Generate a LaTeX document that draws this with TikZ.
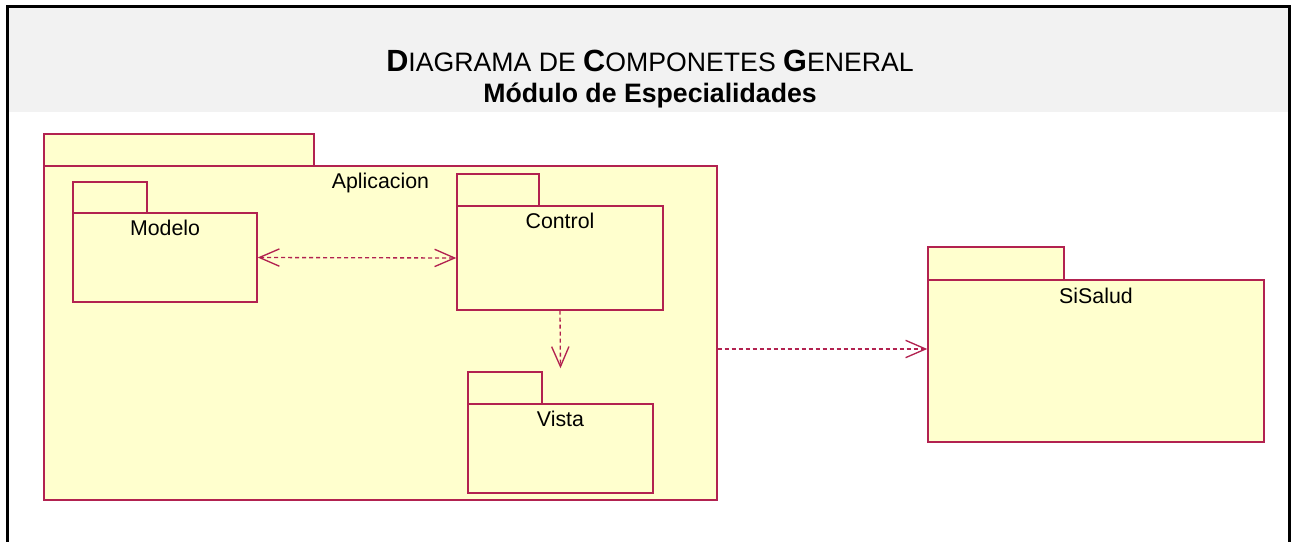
\documentclass[tikz,border=0pt]{standalone}
\usepackage{fontspec}
\setmainfont{Liberation Sans}
\usepackage{tikz}
\usetikzlibrary{arrows.meta,positioning,fit}

\definecolor{pkgline}{RGB}{178,34,80}
\definecolor{pkgfill}{RGB}{255,255,206}
\definecolor{banda}{RGB}{242,242,242}

\begin{document}
\begin{tikzpicture}[x=0.75pt,y=-0.75pt,
	>={Straight Barb[length=15pt,width=13pt]},
	pkg/.style={draw=pkgline,fill=pkgfill,line width=1.1pt,inner sep=0pt},
	pkglabel/.style={inner sep=0pt,font=\fontsize{16}{19}\selectfont},
	dep/.style={draw=pkgline,line width=1pt,dash pattern=on 3pt off 2.25pt}]
	\useasboundingbox (0,0) rectangle (1296,542);

	% marco y cabecera
	\fill[banda] (9,8) rectangle (1288,112);
	\draw[line width=2.25pt] (7.5,542) -- (7.5,6.5) -- (1289.5,6.5) -- (1289.5,542);
	\node[anchor=base,inner sep=0pt,font=\fontsize{20}{24}\selectfont] (titulo) at (650,72)
		{{\bfseries\fontsize{23}{27}\selectfont D}IAGRAMA DE {\bfseries\fontsize{23}{27}\selectfont C}OMPONETES {\bfseries\fontsize{23}{27}\selectfont G}ENERAL};
	\node[anchor=base,inner sep=0pt,font=\bfseries\fontsize{20}{24}\selectfont] (subtitulo) at (650,103)
		{Módulo de Especialidades};

	% paquetes
	\node[pkg,fit={(44,134) (314,166)}] (aplictab) {};
	\node[pkg,fit={(44,166) (717,500)}] (aplic) {};
	\node[pkglabel,below=6pt of aplic.north] (aplicname) {Aplicacion};

	\node[pkg,fit={(73,182) (147,213)}] (modelotab) {};
	\node[pkg,fit={(73,213) (257,302)}] (modelo) {};
	\node[pkglabel,below=6pt of modelo.north] (modeloname) {Modelo};

	\node[pkg,fit={(457,174) (539,206)}] (controltab) {};
	\node[pkg,fit={(457,206) (663,310)}] (control) {};
	\node[pkglabel,below=5.5pt of control.north] (controlname) {Control};

	\node[pkg,fit={(468,372) (542,404)}] (vistatab) {};
	\node[pkg,fit={(468,404) (653,493)}] (vista) {};
	\node[pkglabel,below=5.5pt of vista.north] (vistaname) {Vista};

	\node[pkg,fit={(928,247) (1064,280)}] (sisaludtab) {};
	\node[pkg,fit={(928,280) (1264,442)}] (sisalud) {};
	\node[pkglabel,below=6.5pt of sisalud.north] (sisaludname) {SiSalud};

	% dependencias
	\draw [dep,<->] (modelo.east) -- (control.west);
	\draw [dep,->,shorten >=2.25pt] (control.south) -- (vista.north |- vistatab.north);
	\draw [dep,->] (aplic.east |- 0,349) -- (sisalud.west |- 0,349);
\end{tikzpicture}
\end{document}
